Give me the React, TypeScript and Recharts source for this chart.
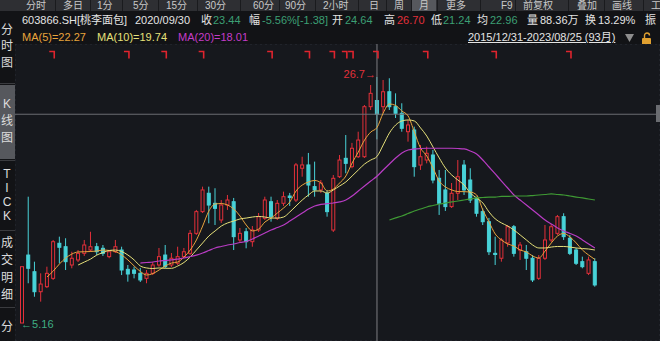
import React from 'react';
import {
  ComposedChart, Bar, Line, XAxis, YAxis, CartesianGrid, ReferenceLine, ReferenceDot,
} from 'recharts';

const months = [
  '2015/12',
  '2016/01', '2016/02', '2016/03', '2016/04', '2016/05', '2016/06', '2016/07', '2016/08', '2016/09', '2016/10', '2016/11', '2016/12',
  '2017/01', '2017/02', '2017/03', '2017/04', '2017/05', '2017/06', '2017/07', '2017/08', '2017/09', '2017/10', '2017/11', '2017/12',
  '2018/01', '2018/02', '2018/03', '2018/04', '2018/05', '2018/06', '2018/07', '2018/08', '2018/09', '2018/10', '2018/11', '2018/12',
  '2019/01', '2019/02', '2019/03', '2019/04', '2019/05', '2019/06', '2019/07', '2019/08', '2019/09', '2019/10', '2019/11', '2019/12',
  '2020/01', '2020/02', '2020/03', '2020/04', '2020/05', '2020/06', '2020/07', '2020/08', '2020/09', '2020/10', '2020/11', '2020/12',
  '2021/01', '2021/02', '2021/03', '2021/04', '2021/05', '2021/06', '2021/07', '2021/08', '2021/09', '2021/10', '2021/11', '2021/12',
  '2022/01', '2022/02', '2022/03', '2022/04', '2022/05', '2022/06', '2022/07', '2022/08', '2022/09', '2022/10', '2022/11', '2022/12',
  '2023/01', '2023/02', '2023/03', '2023/04', '2023/05', '2023/06', '2023/07', '2023/08',
];

const opens = [
  5.16, 11.11, 9.65, 7.9, 8.34, 9.07, 12.14, 11.84, 10.24, 10.68,
  11.26, 11.55, 11.84, 11.7, 10.97, 11.4, 11.55, 9.86, 9.8, 9.51,
  9.07, 9.51, 10.24, 11.11, 10.24, 10.39, 10.97, 11.26, 13.01, 14.91,
  16.52, 15.64, 14.18, 15.49, 15.78, 12.43, 13.15, 12.28, 13.3, 14.33,
  15.78, 14.33, 15.64, 16.28, 15.93, 18.71, 19.0, 17.1, 16.81, 16.52,
  13.3, 17.97, 19.58, 18.85, 19.72, 19.72, 24.1, 24.64, 24.1, 25.41,
  24.1, 23.52, 21.91, 22.06, 18.99, 19.43, 19.87, 17.83, 16.81, 15.35,
  16.52, 18.99, 17.68, 16.08, 14.91, 14.03, 11.26, 10.83, 12.17, 13.59,
  11.55, 11.4, 10.83, 9.07, 10.83, 12.43, 13.01, 14.47, 12.58, 11.55,
  10.53, 9.51, 10.53,
];
const highs = [
  10.09, 16.22, 10.53, 9.51, 10.09, 12.43, 12.72, 12.58, 11.4, 11.55,
  12.43, 13.15, 12.17, 11.99, 11.55, 12.43, 11.84, 10.24, 10.09, 9.98,
  9.8, 10.5, 11.73, 11.99, 11.29, 11.84, 11.73, 13.3, 15.06, 17.1,
  17.1, 16.96, 15.93, 16.37, 16.11, 13.48, 13.48, 13.65, 14.79, 16.22,
  16.22, 15.93, 16.66, 16.55, 19.17, 19.72, 20.05, 19.29, 17.68, 16.81,
  18.12, 19.87, 21.62, 20.93, 21.91, 24.25, 26.0, 26.7, 26.44, 26.59,
  25.27, 24.4, 22.94, 22.35, 20.75, 20.6, 20.31, 18.56, 18.56, 17.42,
  19.43, 19.43, 18.71, 16.22, 15.2, 14.36, 12.72, 12.6, 13.74, 13.74,
  12.25, 11.99, 11.11, 11.11, 13.74, 13.83, 14.62, 14.77, 12.87, 11.73,
  10.97, 10.97, 10.83,
];
const lows = [
  5.16, 8.64, 7.46, 7.03, 8.22, 8.93, 10.39, 9.8, 9.95, 10.5,
  11.03, 11.38, 11.11, 11.03, 10.83, 11.29, 9.36, 8.78, 9.07, 8.75,
  8.64, 9.36, 10.09, 9.95, 10.06, 10.24, 10.83, 11.11, 12.87, 14.79,
  13.89, 13.74, 13.92, 15.06, 11.55, 12.25, 11.7, 11.84, 13.13, 14.18,
  14.03, 14.18, 15.41, 15.41, 15.76, 17.97, 16.22, 16.22, 16.55, 14.47,
  13.13, 17.86, 18.27, 18.71, 19.61, 19.61, 23.81, 21.24, 23.55, 23.81,
  23.11, 21.91, 21.04, 17.97, 18.56, 19.14, 17.39, 14.62, 14.97, 15.23,
  15.93, 16.37, 15.67, 14.47, 13.74, 11.11, 10.24, 10.53, 11.84, 10.97,
  10.68, 9.8, 8.75, 8.93, 10.68, 12.25, 12.87, 12.43, 11.11, 10.24,
  9.95, 9.36, 8.34,
];
const closes = [
  10.09, 9.95, 7.9, 8.57, 9.51, 12.28, 11.79, 10.53, 10.83, 11.26,
  11.99, 11.84, 11.4, 11.26, 11.4, 11.84, 9.8, 9.45, 9.51, 8.93,
  9.51, 10.24, 10.97, 10.09, 10.83, 10.97, 11.4, 13.01, 14.91, 16.81,
  15.49, 15.2, 15.49, 15.93, 12.72, 13.01, 12.28, 13.3, 14.47, 15.93,
  14.47, 15.64, 16.22, 16.15, 19.0, 19.0, 17.24, 16.81, 17.42, 14.91,
  17.83, 19.43, 19.14, 20.46, 21.18, 24.1, 25.27, 23.44, 25.41, 24.1,
  23.52, 22.21, 22.5, 18.85, 19.72, 20.02, 17.68, 15.64, 15.35, 16.52,
  17.97, 16.81, 15.93, 14.77, 14.03, 11.4, 11.16, 12.43, 13.59, 11.26,
  11.99, 10.83, 8.93, 10.83, 12.43, 13.59, 14.47, 12.72, 11.26, 10.39,
  10.09, 10.68, 8.49,
];

// moving averages as drawn in the picture
const ma5 = [
  null, null, null, null, 9.19, 9.71, 10.33, 10.85, 11.2, 11.38,
  11.4, 11.42, 11.46, 11.55, 11.51, 11.42, 11.11, 10.68, 10.15, 9.67,
  9.36, 9.49, 9.8, 10.15, 10.41, 10.5, 10.94, 11.55, 12.43, 13.65,
  14.97, 15.58, 15.62, 15.49, 15.14, 14.53, 13.74, 13.22, 13.39, 14.0,
  14.35, 14.79, 15.23, 15.76, 16.72, 17.24, 17.51, 17.64, 17.42, 16.72,
  16.89, 17.42, 18.03, 19.17, 20.13, 21.18, 21.88, 22.27, 23.55, 24.34,
  24.21, 23.72, 23.29, 21.88, 20.48, 19.78, 18.73, 17.59, 17.07, 16.81,
  16.67, 16.66, 16.63, 16.37, 15.06, 14.0, 12.95, 12.43, 12.08, 11.9,
  11.55, 11.38, 11.03, 10.85, 11.46, 12.17, 12.78, 13.0, 12.69, 12.17,
  11.55, 11.11, 10.72,
];
const ma10 = [
  null, null, null, null, null, null, null, null, null, 10.24,
  10.5, 10.76, 11.11, 11.33, 11.51, 11.55, 11.42, 11.11, 10.68, 10.15,
  9.98, 9.93, 9.98, 9.95, 9.95, 10.15, 10.46, 10.94, 11.55, 12.17,
  12.78, 13.22, 13.65, 13.92, 14.09, 14.27, 14.35, 14.44, 14.49, 14.44,
  14.35, 14.35, 14.44, 14.88, 15.41, 15.93, 16.37, 16.72, 16.72, 16.54,
  16.81, 17.16, 17.51, 18.03, 18.56, 19.08, 19.43, 19.74, 20.75, 21.8,
  22.5, 22.85, 22.94, 22.85, 22.24, 21.53, 20.57, 19.61, 18.73, 18.12,
  17.68, 17.24, 16.54, 16.11, 15.67, 14.88, 14.27, 13.92, 13.65, 13.3,
  12.87, 12.43, 11.99, 11.73, 11.73, 11.81, 11.86, 11.86, 11.81, 11.73,
  11.68, 11.64, 11.55,
];
const ma20 = [
  null, null, null, null, null, null, null, null, null, null,
  null, null, null, null, null, null, null, null, null, 10.41,
  10.46, 10.5, 10.59, 10.63, 10.68, 10.76, 10.85, 10.98, 11.11, 11.29,
  11.51, 11.73, 11.86, 11.99, 12.08, 12.21, 12.3, 12.52, 12.78, 13.04,
  13.3, 13.52, 13.74, 14.09, 14.44, 14.79, 15.14, 15.41, 15.54, 15.62,
  15.67, 15.76, 15.93, 16.28, 16.72, 17.16, 17.59, 18.01, 18.56, 19.08,
  19.61, 20.05, 20.31, 20.4, 20.44, 20.46, 20.46, 20.46, 20.46, 20.46,
  20.44, 20.4, 20.22, 19.96, 19.43, 18.82, 18.21, 17.59, 16.98, 16.37,
  15.93, 15.49, 15.06, 14.62, 14.18, 13.83, 13.48, 13.22, 13.0, 12.78,
  12.43, 12.08, 11.73,
];
const ma60 = [
  null, null, null, null, null, null, null, null, null, null,
  null, null, null, null, null, null, null, null, null, null,
  null, null, null, null, null, null, null, null, null, null,
  null, null, null, null, null, null, null, null, null, null,
  null, null, null, null, null, null, null, null, null, null,
  null, null, null, null, null, null, null, null, null, 14.18,
  14.36, 14.53, 14.75, 14.97, 15.14, 15.32, 15.45, 15.58, 15.67, 15.76,
  15.84, 15.93, 16.02, 16.11, 16.15, 16.19, 16.19, 16.24, 16.24, 16.28,
  16.28, 16.28, 16.32, 16.37, 16.41, 16.46, 16.41, 16.37, 16.28, 16.19,
  16.11, 16.02, 15.93,
];

const markMonths = [
  '2016/05', '2017/05', '2017/11', '2018/05', '2019/04', '2019/10', '2020/02',
  '2020/04', '2020/05', '2020/09', '2021/05', '2022/04', '2023/04',
];
const yearTicks = ['2017/01', '2018/01', '2019/01', '2020/01', '2021/01', '2022/01', '2023/01'];
const gridPrices = [27.13, 24.67, 22.21, 19.75, 17.29, 14.83, 12.37, 9.91, 7.45, 4.99];

const MARK_LEVEL = 28.67;
const BG = '#16181d';
const RED = '#e3303a';
const CYAN = '#48d2d8';
const GREEN_TXT = '#3c9f74';
const FONT = '"Liberation Sans", "Noto Sans CJK SC", sans-serif';

const data = months.map((m, i) => ({
  m,
  o: opens[i],
  h: highs[i],
  l: lows[i],
  c: closes[i],
  ma5: ma5[i],
  ma10: ma10[i],
  ma20: ma20[i],
  ma60: ma60[i],
  mk: markMonths.includes(m) ? MARK_LEVEL : null,
}));

const Candle = (props: any) => {
  const { x, y, width, height, payload } = props;
  const top = Math.min(y, y + height);
  const full = Math.abs(height);
  const { o, h, l, c } = payload;
  const k = h === l ? 0 : full / (h - l);
  const cx = x + width / 2;
  const yO = top + (h - o) * k;
  const yC = top + (h - c) * k;
  const up = c >= o;
  const col = up ? RED : CYAN;
  const bTop = Math.min(yO, yC);
  const bH = Math.max(Math.abs(yO - yC), 1);
  return (
    <g>
      <line x1={cx} x2={cx} y1={top} y2={top + full} stroke={col} strokeWidth={1} />
      <rect x={x + 0.5} y={bTop} width={width - 1} height={bH}
        fill={up ? BG : col} stroke={col} strokeWidth={1} />
    </g>
  );
};

const MarkDot = (props: any) => {
  const { cx, cy, payload, index } = props;
  if (payload == null || payload.mk == null || cy == null) return <g key={index} />;
  return (
    <path key={index} d={`M${cx - 4},${cy - 3} H${cx + 1} V${cy + 4}`}
      stroke="#e0242e" strokeWidth={1.6} fill="none" />
  );
};

const T = ({ x, y, c = '#e4e4e4', s = 11, u = false, children }: any) => (
  <span style={{
    position: 'absolute', left: x, top: y, color: c, fontSize: s, lineHeight: `${s + 1}px`,
    whiteSpace: 'nowrap', textDecoration: u ? 'underline' : 'none',
  }}>{children}</span>
);

const tabs = [
  ['分时', 26], ['多日', 63], ['1分', 97], ['5分', 133], ['15分', 166], ['30分', 205],
  ['60分', 253], ['90分', 285], ['2小时', 323], ['日', 369], ['周', 394], ['月', 419],
  ['更多', 446], ['F9', 501], ['前复权', 523], ['叠加', 577], ['画线', 612], ['工', 651],
];
const tabSeps = [55, 90, 122, 158, 197, 240, 279, 315, 358, 386, 411, 437, 480, 515, 568, 604, 643];

const side = [
  ['分', 30], ['时', 46], ['图', 63],
  ['K', 104], ['线', 121], ['图', 138],
  ['T', 174], ['I', 188], ['C', 202], ['K', 216],
  ['成', 243], ['交', 260], ['明', 278], ['细', 295],
  ['分', 327],
];
const sideSeps = [83, 160, 230, 307];

export default function App() {
  return (
    <div style={{
      position: 'absolute', left: 0, top: 0, width: 660, height: 341, overflow: 'hidden',
      background: '#121316', fontFamily: FONT,
    }}>
      {/* tab bar */}
      <div style={{ position: 'absolute', left: 0, top: 0, width: 660, height: 11, background: '#2e2f33' }} />
      <div style={{ position: 'absolute', left: 412, top: 0, width: 24, height: 11, background: '#56585d' }} />
      {tabSeps.map((x) => (
        <div key={x} style={{ position: 'absolute', left: x, top: 0, width: 1, height: 11, background: '#1a1b1e' }} />
      ))}
      {tabs.map(([t, x]) => <T key={t as string} x={x} y={0} s={10} c="#c9c9c9">{t}</T>)}

      {/* info line */}
      <T x={22} y={14}>603866.SH[桃李面包]</T>
      <T x={135} y={14}>2020/09/30</T>
      <T x={201} y={14}>收</T>
      <T x={213} y={14} c={GREEN_TXT}>23.44</T>
      <T x={249} y={14}>幅</T>
      <T x={262} y={14} c={GREEN_TXT}>-5.56%[-1.38]</T>
      <T x={332} y={14}>开</T>
      <T x={345} y={14} c={GREEN_TXT}>24.64</T>
      <T x={384} y={14}>高</T>
      <T x={397} y={14} c={RED}>26.70</T>
      <T x={431} y={14}>低</T>
      <T x={443} y={14} c={GREEN_TXT}>21.24</T>
      <T x={477} y={14}>均</T>
      <T x={490} y={14} c={GREEN_TXT}>22.96</T>
      <T x={527} y={14}>量</T>
      <T x={540} y={14}>88.36万</T>
      <T x={585} y={14}>换</T>
      <T x={598} y={14}>13.29%</T>
      <T x={645} y={14}>振</T>

      {/* MA legend */}
      <T x={22} y={31} c="#e9a43c">MA(5)=22.27</T>
      <T x={97} y={31} c="#e6e07a">MA(10)=19.74</T>
      <T x={178} y={31} c="#c43cc8">MA(20)=18.01</T>
      <T x={468} y={31} u>2015/12/31-2023/08/25 (93月)</T>
      <svg style={{ position: 'absolute', left: 624, top: 32 }} width={32} height={14}>
        <polygon points="1,2 10,2 5.5,10" fill="#8d8d8d" />
        <path d="M20.5,6 V3.5 a2.5,2.5 0 0 1 5,0" stroke="#e0a030" strokeWidth={1.4} fill="none" />
        <rect x={18} y={6} width={9} height={7} rx={1} fill="#e0a030" />
      </svg>

      {/* side bar */}
      <div style={{ position: 'absolute', left: 0, top: 85, width: 15, height: 74, background: '#56585d' }} />
      {sideSeps.map((y) => (
        <div key={y} style={{ position: 'absolute', left: 0, top: y, width: 15, height: 1, background: '#3a3b3f' }} />
      ))}
      {side.map(([t, y], i) => (
        <span key={i} style={{
          position: 'absolute', left: 0, width: 14, top: (y as number) - 6, textAlign: 'center',
          fontSize: 12, lineHeight: '12px', color: '#dcdcdc',
        }}>{t}</span>
      ))}

      {/* chart */}
      <div style={{ position: 'absolute', left: 15, top: 44, width: 645, height: 297, background: BG }}>
        <ComposedChart width={645} height={297} data={data} margin={{ top: 0, right: 0, bottom: 0, left: 0 }}>
          <CartesianGrid stroke="#2b2f39" strokeDasharray="2 3" />
          <XAxis dataKey="m" type="category" ticks={yearTicks} interval={0} height={0}
            tick={false} axisLine={false} tickLine={false} padding={{ left: 4, right: 62 }} />
          <YAxis type="number" domain={[3.584, 29.59]} ticks={gridPrices} width={0}
            tick={false} axisLine={false} tickLine={false} allowDataOverflow />
          <ReferenceLine y={23.44} stroke="#6c6d72" strokeWidth={1} />
          <ReferenceLine x="2020/09" stroke="#7d7e83" strokeWidth={1} />
          <Bar dataKey={(d: any) => [d.l, d.h]} barSize={4} shape={Candle} isAnimationActive={false} />
          <Line dataKey="ma5" type="monotone" stroke="#eaa53e" strokeWidth={1} dot={false} isAnimationActive={false} />
          <Line dataKey="ma10" type="monotone" stroke="#e6e07a" strokeWidth={1} dot={false} isAnimationActive={false} />
          <Line dataKey="ma20" type="monotone" stroke="#b93cc4" strokeWidth={1.2} dot={false} isAnimationActive={false} />
          <Line dataKey="ma60" type="monotone" stroke="#3f9a34" strokeWidth={1.2} dot={false} isAnimationActive={false} />
          <Line dataKey="mk" stroke="none" dot={MarkDot} activeDot={false} isAnimationActive={false} />
          <ReferenceDot x="2020/09" y={26.7} r={0} shape={(p: any) => (
            <text x={p.cx - 1} y={p.cy + 1} textAnchor="end" fill={RED} fontSize={11} fontFamily={FONT}>26.7→</text>
          )} />
          <ReferenceDot x="2015/12" y={5.16} r={0} shape={(p: any) => (
            <text x={p.cx - 1} y={p.cy + 5} textAnchor="start" fill="#3fae84" fontSize={11} fontFamily={FONT}>←5.16</text>
          )} />
        </ComposedChart>
      </div>
      <div style={{ position: 'absolute', left: 656, top: 105, width: 4, height: 17, background: '#6a6c71' }} />
    </div>
  );
}
